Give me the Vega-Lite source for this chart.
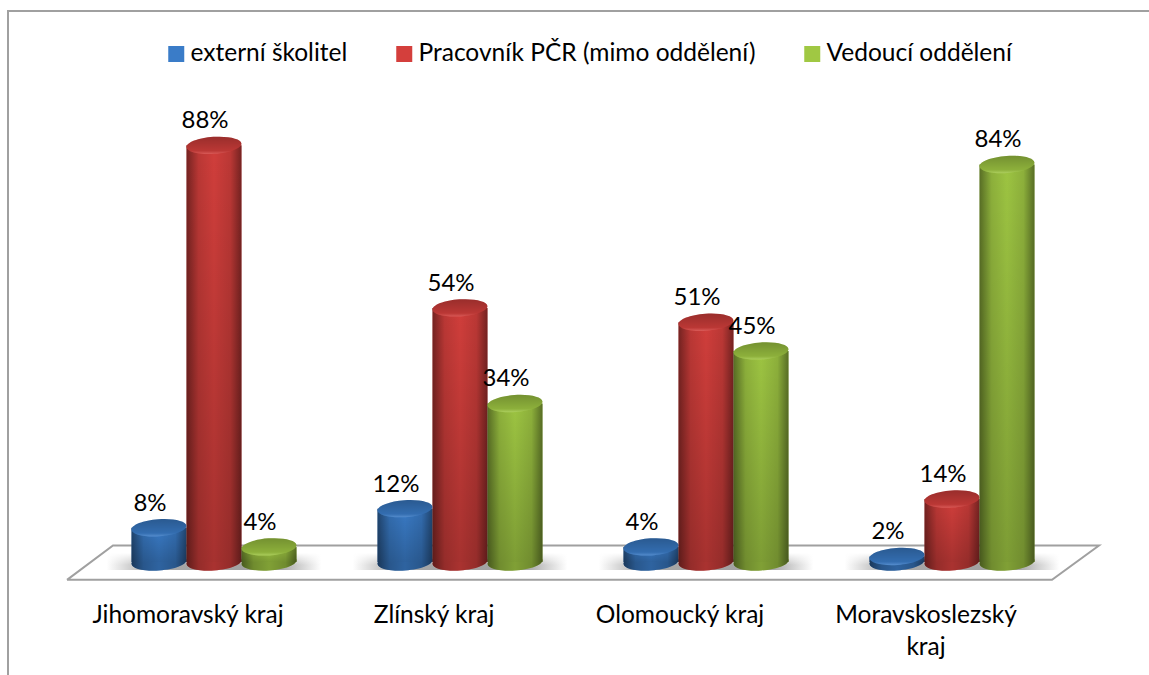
{
"$schema":"https://vega.github.io/schema/vega-lite/v6.json",
"width":984,"height":478,
"autosize":{"type":"none"},
"padding":{"left":91,"top":88,"right":74,"bottom":109},
"background":"white",
"config":{"view":{"stroke":null},"font":"Lato"},
"datasets":{
"vals":[
{"region":"Jihomoravský kraj","series":"externí školitel","value":0.08,"shade":0.0094},
{"region":"Jihomoravský kraj","series":"Pracovník PČR (mimo oddělení)","value":0.88,"shade":0.0094},
{"region":"Jihomoravský kraj","series":"Vedoucí oddělení","value":0.04,"shade":0.0094},
{"region":"Zlínský kraj","series":"externí školitel","value":0.12,"shade":0.0094},
{"region":"Zlínský kraj","series":"Pracovník PČR (mimo oddělení)","value":0.54,"shade":0.0094},
{"region":"Zlínský kraj","series":"Vedoucí oddělení","value":0.34,"shade":0.0094},
{"region":"Olomoucký kraj","series":"externí školitel","value":0.04,"shade":0.0094},
{"region":"Olomoucký kraj","series":"Pracovník PČR (mimo oddělení)","value":0.51,"shade":0.0094},
{"region":"Olomoucký kraj","series":"Vedoucí oddělení","value":0.45,"shade":0.0094},
{"region":"Moravskoslezský kraj","series":"externí školitel","value":0.02,"shade":0.0094},
{"region":"Moravskoslezský kraj","series":"Pracovník PČR (mimo oddělení)","value":0.14,"shade":0.0094},
{"region":"Moravskoslezský kraj","series":"Vedoucí oddělení","value":0.84,"shade":0.0094}
],
"shape":[
{"kind":"frame","p":-83,"q":-0.228,"o":1},{"kind":"frame","p":-83,"q":1.161,"o":2},{"kind":"frame","p":1058,"q":1.161,"o":3},
{"kind":"floor","p":-24,"q":-0.029,"o":1},{"kind":"floor","p":22,"q":0.043,"o":2},{"kind":"floor","p":1008,"q":0.043,"o":3},{"kind":"floor","p":961,"q":-0.029,"o":4},{"kind":"floor","p":-24,"q":-0.029,"o":5}
]
},
"resolve":{"scale":{"x":"independent"}},
"layer":[
{
"data":{"name":"shape"},
"mark":{"type":"line","clip":false,"interpolate":"linear"},
"encoding":{
"x":{"field":"p","type":"quantitative","scale":{"domain":[0,984],"nice":false,"zero":false},"axis":null},
"y":{"field":"q","type":"quantitative","scale":{"domain":[0,1],"nice":false},"axis":null},
"detail":{"field":"kind"},
"order":{"field":"o"},
"color":{"value":"#a0a0a0"},
"strokeWidth":{"value":2}
}
},
{
"data":{"name":"vals"},
"encoding":{
"x":{"field":"region","type":"nominal","sort":null,"scale":{"domain":["Jihomoravský kraj","Zlínský kraj","Olomoucký kraj","Moravskoslezský kraj"],"paddingInner":0.329,"paddingOuter":0.1645},
"axis":{"title":null,"domain":false,"ticks":false,"labelAngle":0,"labelFontSize":24.5,"labelFont":"Lato","labelColor":"#000000","labelOffset":-26,"labelPadding":37,"labelLineHeight":32,"labelLimit":400,"labelExpr":"datum.label == 'Moravskoslezský kraj' ? ['Moravskoslezský','kraj'] : datum.label"}},
"xOffset":{"field":"series","type":"nominal","sort":null,"scale":{"domain":["externí školitel","Pracovník PČR (mimo oddělení)","Vedoucí oddělení"],"paddingInner":0,"paddingOuter":0}},
"y":{"field":"value","type":"quantitative","scale":{"domain":[0,1],"nice":false},"axis":null}
},
"layer":[
{
"transform":[{"filter":"datum.series === 'externí školitel'"}],
"mark":{"type":"point","filled":true,"opacity":1,"size":46000,"shape":"M-1,-0.08L1,-0.08L1,0.08L-1,0.08Z","clip":false,"color":{"gradient":"linear","x1":0,"x2":1,"y1":0,"y2":0,"stops":[{"offset":0,"color":"#ffffff"},{"offset":0.2,"color":"#a8a8a8"},{"offset":0.8,"color":"#a0a0a0"},{"offset":1,"color":"#ffffff"}]}},
"encoding":{"xOffset":null,"y":{"field":"shade","type":"quantitative"}}
},
{
"transform":[{"filter":"datum.series === 'externí školitel'"}],
"mark":{"type":"point","filled":true,"opacity":1,"size":46000,"shape":"M-1,-0.08L1,-0.08L1,0.08L-1,0.08Z","clip":false,"color":{"gradient":"linear","x1":0,"x2":0,"y1":0,"y2":1,"stops":[{"offset":0,"color":"rgba(255,255,255,1)"},{"offset":0.7,"color":"rgba(255,255,255,0)"},{"offset":1,"color":"rgba(255,255,255,0)"}]}},
"encoding":{"xOffset":null,"y":{"field":"shade","type":"quantitative"}}
},
{
"mark":{"type":"point","filled":true,"opacity":1,"size":3025,"clip":false,"shape":"M-0.998,0.07A1,0.31,-4,1,1,0.998,-0.07A1,0.31,-4,1,1,-0.998,0.07Z"},
"encoding":{"y":{"datum":0.0084},"color":{"field":"series","type":"nominal"}}
},
{
"mark":{"type":"point","filled":true,"opacity":1,"size":3025,"clip":false,"shape":"M-0.998,0.07A1,0.31,-4,1,1,0.998,-0.07A1,0.31,-4,1,1,-0.998,0.07Z","color":{"gradient":"linear","x1":0,"x2":1,"y1":0,"y2":0,"stops":[{"offset":0,"color":"rgba(0,0,0,0.55)"},{"offset":0.22,"color":"rgba(0,0,0,0.3)"},{"offset":0.5,"color":"rgba(0,0,0,0.2)"},{"offset":0.8,"color":"rgba(0,0,0,0.3)"},{"offset":1,"color":"rgba(0,0,0,0.55)"}]}},
"encoding":{"y":{"datum":0.0084}}
},
{
"mark":{"type":"bar"},
"encoding":{"y2":{"datum":0.0084},"color":{"field":"series","type":"nominal","sort":null,"title":null,
"scale":{"domain":["externí školitel","Pracovník PČR (mimo oddělení)","Vedoucí oddělení"],"range":["#3a7cc8","#d43f3c","#a0c843"]},
"legend":{"orient":"none","legendX":73,"legendY":-49,"direction":"horizontal","columns":3,"symbolType":"square","symbolSize":256,"symbolStrokeWidth":0,"symbolOpacity":1,"labelFontSize":24.5,"labelFont":"Lato","labelColor":"#000000","labelLimit":500,"columnPadding":44,"labelOffset":2,"clipHeight":30}}}
},
{
"mark":{"type":"bar","color":{"gradient":"linear","x1":0,"x2":1,"y1":0,"y2":0,"stops":[{"offset":0,"color":"rgba(0,0,0,0.45)"},{"offset":0.22,"color":"rgba(0,0,0,0.12)"},{"offset":0.5,"color":"rgba(0,0,0,0.02)"},{"offset":0.8,"color":"rgba(0,0,0,0.12)"},{"offset":1,"color":"rgba(0,0,0,0.45)"}]}},
"encoding":{"y2":{"datum":0.0084}}
},
{
"mark":{"type":"bar","color":{"gradient":"linear","x1":0,"x2":0,"y1":0,"y2":1,"stops":[{"offset":0,"color":"rgba(0,0,0,0)"},{"offset":1,"color":"rgba(0,0,0,0.2)"}]}},
"encoding":{"y2":{"datum":0.0084}}
},
{
"mark":{"type":"point","filled":true,"opacity":1,"size":3025,"clip":false,"shape":"M-0.998,0.07A1,0.31,-4,1,1,0.998,-0.07A1,0.31,-4,1,1,-0.998,0.07Z"},
"encoding":{"color":{"field":"series","type":"nominal"}}
},
{
"mark":{"type":"point","filled":true,"opacity":1,"size":3025,"clip":false,"shape":"M-0.998,0.07A1,0.31,-4,1,1,0.998,-0.07A1,0.31,-4,1,1,-0.998,0.07Z","color":{"gradient":"linear","x1":0,"x2":0,"y1":0,"y2":1,"stops":[{"offset":0,"color":"rgba(0,0,0,0.28)"},{"offset":0.8,"color":"rgba(0,0,0,0.12)"},{"offset":1,"color":"rgba(255,255,255,0.15)"}]}}
},
{
"mark":{"type":"text","fontSize":24,"font":"Lato","dx":-9,"dy":-24,"color":"#000000"},
"encoding":{"text":{"field":"value","type":"quantitative","format":".0%"}}
}
]
}
]
}
